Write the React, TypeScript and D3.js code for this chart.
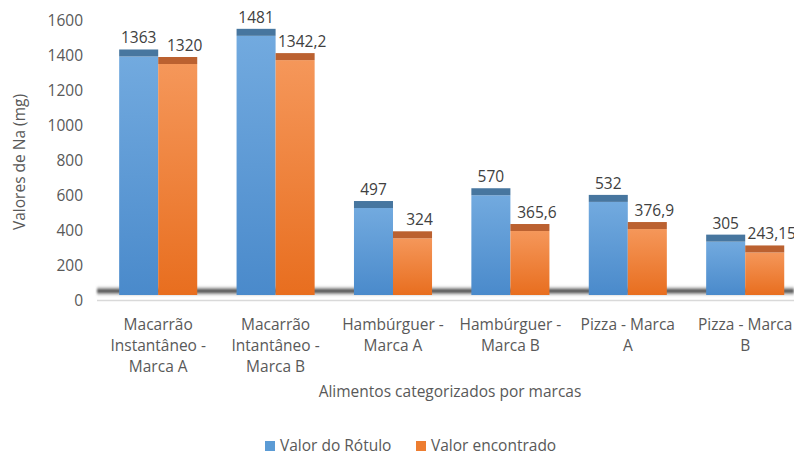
import React from "react";
import * as d3 from "d3";

const categories: string[][] = [
  ["Macarrão", "Instantâneo -", "Marca A"],
  ["Macarrão", "Intantâneo -", "Marca B"],
  ["Hambúrguer -", "Marca A"],
  ["Hambúrguer -", "Marca B"],
  ["Pizza - Marca", "A"],
  ["Pizza - Marca", "B"],
];
const seriesNames = ["Valor do Rótulo", "Valor encontrado"];
const rotulo = [1363, 1481, 497, 570, 532, 305];
const encontrado = [1320, 1342.2, 324, 365.6, 376.9, 243.15];
const rotuloLabels = ["1363", "1481", "497", "570", "532", "305"];
const encontradoLabels = ["1320", "1342,2", "324", "365,6", "376,9", "243,15"];
const yTicks = [0, 200, 400, 600, 800, 1000, 1200, 1400, 1600];

const W = 794;
const H = 455;
const FONT = "'Open Sans', sans-serif";
const TXT = "#595959";
const FS = 15.5;

export default function App() {
  const y = d3.scaleLinear().domain([0, 1600]).range([300, 20]);
  const keys = categories.map((_, i) => String(i));
  const x = d3.scaleBand<string>().domain(keys).range([99.5, 803.9]).paddingInner(0.335).paddingOuter(0.1675);
  const xs = d3.scaleBand<string>().domain(["0", "1"]).range([0, x.bandwidth()]);
  const depth = 5;
  const cap = 7;
  const series = [
    { vals: rotulo, labels: rotuloLabels, grad: "gBlue", capColor: "#47769f", legend: "#5b9bd5", ldx: 0 },
    { vals: encontrado, labels: encontradoLabels, grad: "gOrange", capColor: "#bb6130", legend: "#ed7d31", ldx: 7 },
  ];

  return (
    <svg width={W} height={H} style={{ display: "block", position: "absolute", left: 0, top: 0 }}>
      <defs>
        <linearGradient id="gBlue" x1="0" y1="0" x2="0" y2="1">
          <stop offset="0" stopColor="#72aadf" />
          <stop offset="1" stopColor="#4a8acb" />
        </linearGradient>
        <linearGradient id="gOrange" x1="0" y1="0" x2="0" y2="1">
          <stop offset="0" stopColor="#f5975a" />
          <stop offset="1" stopColor="#e86e1f" />
        </linearGradient>
        <linearGradient id="gFloor" x1="0" y1="0" x2="0" y2="1">
          <stop offset="0" stopColor="#888" stopOpacity="0" />
          <stop offset="0.5" stopColor="#333" />
          <stop offset="1" stopColor="#888" stopOpacity="0" />
        </linearGradient>
        <filter id="blur" x="-0.1" y="-1" width="1.2" height="3">
          <feGaussianBlur stdDeviation="0.9" />
        </filter>
      </defs>
      <rect width={W} height={H} fill="#fff" />

      {/* y ticks */}
      {yTicks.map((t) => (
        <text key={t} x={83} y={y(t)} dy="0.36em" textAnchor="end" fontFamily={FONT} fontSize={FS} fill={TXT}>
          {t}
        </text>
      ))}
      <text
        transform={`translate(25,${162}) rotate(-90)`}
        textAnchor="middle"
        fontFamily={FONT}
        fontSize={FS}
        fill={TXT}
      >
        Valores de Na (mg)
      </text>

      {/* axis line */}
      <line x1={97} x2={W} y1={y(0) + 0.5} y2={y(0) + 0.5} stroke="#d9d9d9" strokeWidth={1.5} />
      {/* floor shadow */}
      <rect x={97} y={y(0) - depth - 9} width={W - 97} height={10} fill="url(#gFloor)" filter="url(#blur)" />

      {/* bars */}
      {keys.map((k, i) => (
        <g key={k}>
          {series.map((s, j) => {
            const bx = (x(k) as number) + (xs(String(j)) as number);
            const bw = xs.bandwidth();
            const top = y(s.vals[i]) - depth;
            const bottom = y(0) - depth;
            return (
              <g key={j}>
                <rect x={bx} y={top} width={bw} height={bottom - top} fill={`url(#${s.grad})`} />
                <rect x={bx} y={top - cap} width={bw} height={cap} fill={s.capColor} />
                <text
                  x={bx + bw / 2 + s.ldx}
                  y={top - cap - 6}
                  textAnchor="middle"
                  fontFamily={FONT}
                  fontSize={FS}
                  fill="#404040"
                >
                  {s.labels[i]}
                </text>
              </g>
            );
          })}
        </g>
      ))}

      {/* category labels */}
      {keys.map((k, i) => (
        <text
          key={k}
          x={(x(k) as number) + x.bandwidth() / 2}
          y={330}
          textAnchor="middle"
          fontFamily={FONT}
          fontSize={FS}
          fill={TXT}
        >
          {categories[i].map((line, li) => (
            <tspan key={li} x={(x(k) as number) + x.bandwidth() / 2} dy={li === 0 ? 0 : 21}>
              {line}
            </tspan>
          ))}
        </text>
      ))}
      <text x={450} y={397} textAnchor="middle" fontFamily={FONT} fontSize={FS} fill={TXT}>
        Alimentos categorizados por marcas
      </text>

      {/* legend */}
      {series.map((s, j) => {
        const lx = j === 0 ? 265 : 416;
        return (
          <g key={j}>
            <rect x={lx} y={441} width={10} height={10} fill={s.legend} />
            <text x={lx + 15} y={451} fontFamily={FONT} fontSize={FS} fill={TXT}>
              {seriesNames[j]}
            </text>
          </g>
        );
      })}
    </svg>
  );
}
